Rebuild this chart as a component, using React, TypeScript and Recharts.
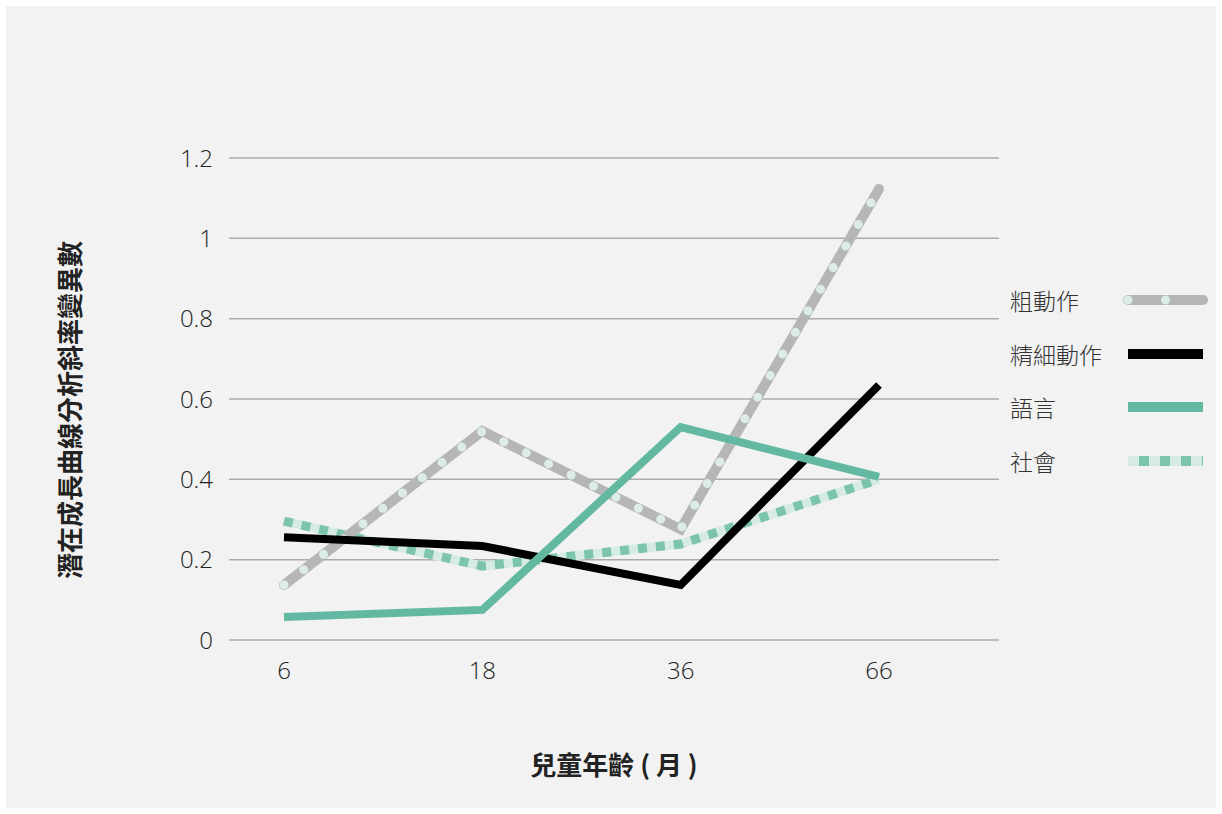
import { LineChart, Line, XAxis, YAxis, CartesianGrid, Label } from 'recharts';

const ages = ['6', '18', '36', '66'];
const grossMotor = [0.137, 0.52, 0.276, 1.123];
const fineMotor = [0.256, 0.234, 0.137, 0.635];
const language = [0.057, 0.075, 0.53, 0.406];
const social = [0.296, 0.184, 0.239, 0.4];
const yTicks = [0, 0.2, 0.4, 0.6, 0.8, 1, 1.2];

const seriesNames = ['粗動作', '精細動作', '語言', '社會'];

const data = ages.map((age, i) => ({
	age,
	gross: grossMotor[i],
	fine: fineMotor[i],
	lang: language[i],
	social: social[i],
}));

const cjk = '"Noto Sans CJK TC", "Noto Sans", sans-serif';
const numFont = '"Open Sans", "Noto Sans", sans-serif';

const gray = '#b5b6b5';
const dotColor = '#dcede7';
const teal = '#62b8a0';
const socialLight = '#d6ebe4';
const socialDark = '#7cc4ae';

const LegendSample = ({ index }: { index: number }) => {
	if (index === 0) {
		return (
			<svg width={90} height={16}>
				<line x1={8} y1={8} x2={83} y2={8} stroke={gray} strokeWidth={10} strokeLinecap='round' />
				<line x1={8} y1={8} x2={83} y2={8} stroke={dotColor} strokeWidth={9} strokeLinecap='round' strokeDasharray='0 37.5' />
			</svg>
		);
	}
	if (index === 1) {
		return (
			<svg width={90} height={16}>
				<line x1={8} y1={8} x2={83} y2={8} stroke='#000' strokeWidth={10} />
			</svg>
		);
	}
	if (index === 2) {
		return (
			<svg width={90} height={16}>
				<line x1={8} y1={8} x2={83} y2={8} stroke={teal} strokeWidth={10} />
			</svg>
		);
	}
	return (
		<svg width={90} height={16}>
			<line x1={8} y1={8} x2={83} y2={8} stroke={socialLight} strokeWidth={10} />
			<line x1={19} y1={8} x2={83} y2={8} stroke={socialDark} strokeWidth={10} strokeDasharray='10 11' />
		</svg>
	);
};

const ChartLegend = () => (
	<div
		style={{
			position: 'absolute',
			left: 1004,
			top: 267,
			width: 206,
			fontFamily: cjk,
			fontSize: 23,
			color: '#333',
			fontWeight: 300,
		}}
	>
		{seriesNames.map((name, i) => (
			<div key={name} style={{ display: 'flex', alignItems: 'center', height: 53.7 }}>
				<span style={{ width: 110, whiteSpace: 'nowrap' }}>{name}</span>
				<LegendSample index={i} />
			</div>
		))}
	</div>
);

const YTitle = (props: any) => {
	const { viewBox } = props;
	const cx = 62;
	const cy = viewBox.y + viewBox.height / 2 + 11;
	return (
		<text
			x={cx}
			y={cy}
			transform={`rotate(-90, ${cx}, ${cy})`}
			textAnchor='middle'
			dominantBaseline='central'
			fontFamily={cjk}
			fontWeight={700}
			fontSize={26}
			fill='#222'
		>
			潛在成長曲線分析斜率變異數
		</text>
	);
};

const XTitle = (props: any) => {
	const { viewBox } = props;
	return (
		<text
			x={viewBox.x + viewBox.width / 2}
			y={757}
			textAnchor='middle'
			dominantBaseline='central'
			fontFamily={cjk}
			fontWeight={700}
			fontSize={26}
			fill='#222'
		>
			兒童年齡 ( 月 )
		</text>
	);
};

const App = () => {
	return (
		<div style={{ position: 'absolute', left: 6, top: 6, width: 1210, height: 802, background: '#f1f2f1' }}>
			<LineChart width={1210} height={802} data={data} margin={{ top: 152, right: 217, bottom: 138, left: 153 }}>
				<CartesianGrid vertical={false} stroke='#ababab' strokeWidth={1.5} />
				<XAxis
					dataKey='age'
					height={30}
					axisLine={false}
					tickLine={false}
					padding={{ left: 55, right: 120 }}
					tickMargin={16}
					tick={{ fontFamily: numFont, fontSize: 24, fill: '#222', fontWeight: 300 }}
				>
					<Label content={XTitle} />
				</XAxis>
				<YAxis
					width={70}
					domain={[0, 1.2]}
					ticks={yTicks}
					axisLine={false}
					tickLine={false}
					tickMargin={10}
					tick={{ fontFamily: numFont, fontSize: 24, fill: '#222', fontWeight: 300 }}
				>
					<Label content={YTitle} />
				</YAxis>
				<Line dataKey='social' stroke={socialLight} strokeWidth={9} dot={false} isAnimationActive={false} />
				<Line dataKey='social' stroke={socialDark} strokeWidth={9} strokeDasharray='9 9' dot={false} isAnimationActive={false} />
				<Line dataKey='gross' stroke={gray} strokeWidth={10} strokeLinecap='round' dot={false} isAnimationActive={false} />
				<Line dataKey='gross' stroke={dotColor} strokeWidth={9} strokeLinecap='round' strokeDasharray='0 25' dot={false} isAnimationActive={false} />
				<Line dataKey='fine' stroke='#000' strokeWidth={8} dot={false} isAnimationActive={false} />
				<Line dataKey='lang' stroke={teal} strokeWidth={8} dot={false} isAnimationActive={false} />
			</LineChart>
			<ChartLegend />
		</div>
	);
};

export default App;
